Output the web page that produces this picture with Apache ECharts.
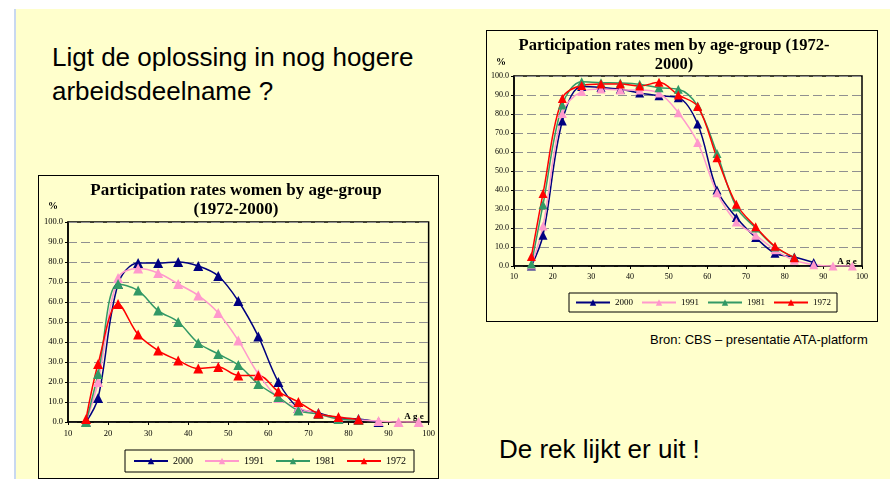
<!DOCTYPE html>
<html>
<head>
<meta charset="utf-8">
<script src="https://cdn.jsdelivr.net/npm/echarts@6/dist/echarts.min.js"></script>
<style>
  html, body { margin: 0; padding: 0; }
  body { width: 890px; height: 479px; position: relative; overflow: hidden; background: #ffffff; font-family: "Liberation Sans", Arial, sans-serif; }
  #slide { position: absolute; left: 14px; top: 9px; width: 876px; height: 470px; background: #FFFFCC; border-left: 2px solid #c8d8f0; }
  .txt { position: absolute; color: #000; white-space: nowrap; font-family: "Liberation Sans", Arial, sans-serif; }
  #q { left: 52px; top: 40px; font-size: 26px; line-height: 34px; }
  #bron { left: 650px; top: 333px; font-size: 13px; line-height: 13px; }
  #rek { left: 499px; top: 436px; font-size: 26px; line-height: 26px; }
  .frame { position: absolute; border: 1px solid #000; box-sizing: border-box; background: #FFFFCC; }
  #women { left: 38px; top: 175px; width: 401px; height: 304px; }
  #men { left: 486px; top: 30px; width: 392px; height: 292px; }
</style>
</head>
<body>
<div id="slide"></div>
<div class="txt" id="q">Ligt de oplossing in nog hogere<br>arbeidsdeelname ?</div>
<div class="txt" id="bron">Bron: CBS – presentatie ATA-platform</div>
<div class="txt" id="rek">De rek lijkt er uit !</div>
<div class="frame" id="women"></div>
<div class="frame" id="men"></div>
<script>
// Age-group midpoints (x values)
const ages = [14.5, 17.5, 22.5, 27.5, 32.5, 37.5, 42.5, 47.5, 52.5, 57.5, 62.5, 67.5, 72.5, 77.5, 82.5, 87.5, 92.5, 97.5];
const seriesNames = ['2000', '1991', '1981', '1972'];
const seriesColors = ['#000080', '#FF99CC', '#339966', '#FF0000'];
const xTicks = [10, 20, 30, 40, 50, 60, 70, 80, 90, 100];
const yTicks = [0, 10, 20, 30, 40, 50, 60, 70, 80, 90, 100];

// Women participation rates (%)
const women2000 = [0, 12, 69, 79.5, 79.5, 80, 78, 73, 60.5, 42.8, 20, 7, 4.5, 2, 1.5, 0];
const women1991 = [0, 20, 72, 76.7, 74.5, 69, 63.3, 54.5, 40.8, 24, 12, 7, 4, 1.5, 1, 0.5, 0, 0];
const women1981 = [0, 24, 69, 65.7, 55.7, 50, 39.5, 34, 28.5, 19, 12.5, 5.7, 4, 1.5, 1];
const women1972 = [1.5, 29, 59, 43.7, 35.7, 30.8, 26.7, 27.5, 23.3, 23.3, 15.2, 10, 4.2, 2.5, 1.2];

// Men participation rates (%)
const men2000 = [0, 16.2, 76.3, 94.5, 94, 93, 91, 89.6, 88.6, 74.7, 40, 25.5, 15, 6.7, 4.7, 1.8];
const men1991 = [0.5, 21, 80.3, 91.8, 93.1, 92.6, 92.6, 91, 80.7, 65, 38.5, 23.2, 16.2, 8.5, 3, 0.7, 0, 0];
const men1981 = [1, 32.3, 84.7, 97, 96.5, 96.3, 95.6, 93.8, 93, 84.2, 59.2, 31, 20, 10, 4.5];
const men1972 = [5, 38.1, 88.2, 95, 95.8, 95.8, 94.7, 96.7, 90, 84, 57, 32.5, 20.6, 10.4, 4.4];

const womenTitle = ['Participation rates women by age-group', '(1972-2000)'];
const menTitle = ['Participation rates men by age-group (1972-', '2000)'];

function pairs(vals) { return vals.map((v, i) => [ages[i], v]); }

function makeOption(cfg) {
  const serif = '"Liberation Serif", "Times New Roman", serif';
  return {
    animation: false,
    backgroundColor: 'transparent',
    grid: { left: cfg.grid[0], top: cfg.grid[1], width: cfg.grid[2], height: cfg.grid[3], show: true, borderColor: '#000', borderWidth: 1.5, backgroundColor: 'transparent' },
    xAxis: {
      type: 'value', min: xTicks[0], max: xTicks[xTicks.length - 1], interval: 10,
      axisLine: { show: true, onZero: false, lineStyle: { color: '#000', width: 1.5 } },
      axisTick: { show: true, length: 3, lineStyle: { color: '#000' } },
      axisLabel: { color: '#000', fontFamily: serif, fontSize: cfg.labelSize, margin: 7 },
      splitLine: { show: false }
    },
    yAxis: {
      type: 'value', min: yTicks[0], max: yTicks[yTicks.length - 1], interval: 10,
      axisLine: { show: true, lineStyle: { color: '#000', width: 1.5 } },
      axisTick: { show: true, length: 3, lineStyle: { color: '#000' } },
      axisLabel: { color: '#000', fontFamily: serif, fontSize: cfg.labelSize, margin: 5, formatter: v => v.toFixed(1) },
      splitLine: { show: true, lineStyle: { color: '#909090', type: [9, 4], width: 1 } }
    },
    legend: {
      left: cfg.legend[0], top: cfg.legend[1], orient: 'horizontal',
      data: seriesNames,
      borderColor: '#000', borderWidth: 1, padding: cfg.legendPad,
      itemWidth: 34, itemHeight: 8, itemGap: cfg.legendGap,
      textStyle: { color: '#000', fontFamily: serif, fontSize: cfg.legendSize }
    },
    graphic: [
      { type: 'text', x: cfg.titleX, y: cfg.titleY, style: { text: cfg.title.join('\n'), align: 'center', verticalAlign: 'top', font: 'bold ' + cfg.titleSize + 'px ' + serif, lineHeight: 19, fill: '#000' } },
      { type: 'text', x: cfg.pct[0], y: cfg.pct[1], style: { text: '%', align: 'center', verticalAlign: 'middle', font: 'bold 10px ' + serif, fill: '#000' } },
      { type: 'text', x: cfg.age[0], y: cfg.age[1], style: { text: 'A g e', align: 'center', verticalAlign: 'middle', font: 'bold 9px ' + serif, fill: '#000' } }
    ],
    series: cfg.data.map((vals, i) => ({
      name: seriesNames[i], type: 'line', smooth: 0.35,
      data: pairs(vals),
      symbol: 'triangle', symbolSize: cfg.symbolSize,
      lineStyle: { color: seriesColors[i], width: 1.5 },
      itemStyle: { color: seriesColors[i] }
    }))
  };
}

const wChart = echarts.init(document.getElementById('women'), null, { renderer: 'canvas' });
wChart.setOption(makeOption({
  grid: [29, 46, 362, 200], labelSize: 8.5, legendSize: 10, symbolSize: 10,
  legend: [86, 274], legendPad: [6, 8], legendGap: 11, titleSize: 17,
  titleX: 197, titleY: 5, pct: [14, 30], age: [375, 241],
  title: womenTitle, data: [women2000, women1991, women1981, women1972]
}));
const mChart = echarts.init(document.getElementById('men'), null, { renderer: 'canvas' });
mChart.setOption(makeOption({
  grid: [27, 45, 348, 190], labelSize: 8, legendSize: 9, symbolSize: 9,
  legend: [82, 262], legendPad: [5, 6], legendGap: 8, titleSize: 16.5,
  titleX: 187, titleY: 5, pct: [14, 31], age: [360, 231],
  title: menTitle, data: [men2000, men1991, men1981, men1972]
}));
</script>
</body>
</html>
